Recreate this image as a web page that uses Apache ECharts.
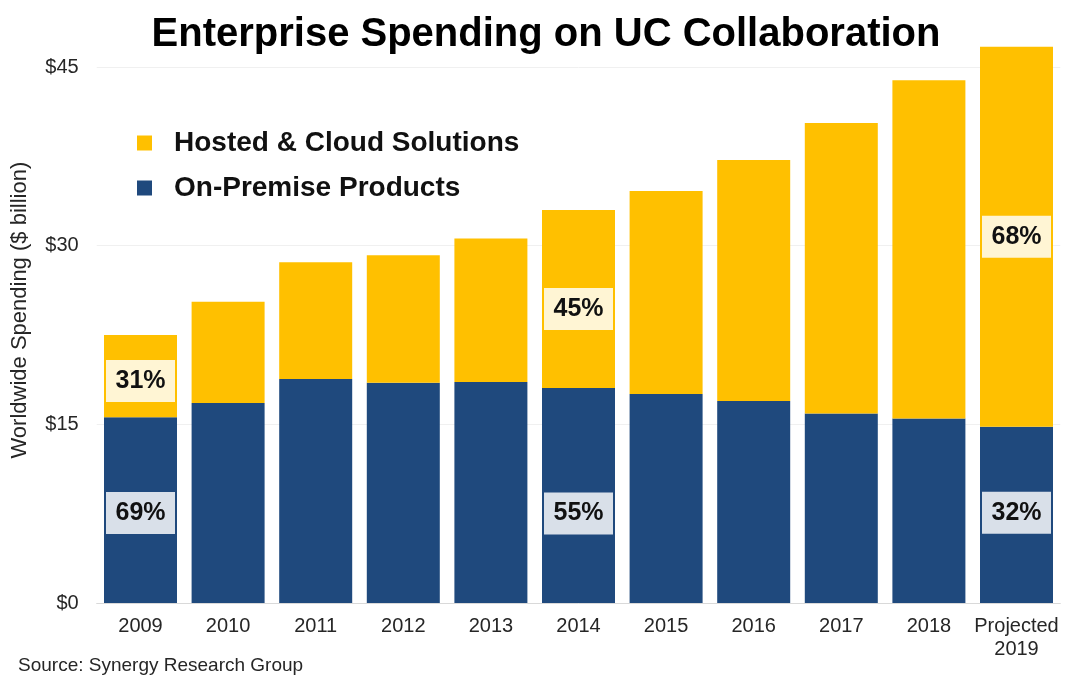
<!DOCTYPE html>
<html>
<head>
<meta charset="utf-8">
<style>html,body{margin:0;padding:0;background:#fff}#c{width:1080px;height:684px}</style>
<script src="https://cdn.jsdelivr.net/npm/echarts@6/dist/echarts.min.js"></script>
</head>
<body>
<div id="c"></div>
<script>
const categories = ['2009','2010','2011','2012','2013','2014','2015','2016','2017','2018','Projected\n2019'];
const onPremise = [15.6,16.8,18.8,18.5,18.55,18.05,17.55,16.95,15.9,15.5,14.8];
const hosted = [6.9,8.5,9.8,10.7,12.05,14.95,17.05,20.25,24.4,28.4,31.9];
const onPremiseShare = ['69%',null,null,null,null,'55%',null,null,null,null,'32%'];
const hostedShare = ['31%',null,null,null,null,'45%',null,null,null,null,'68%'];
const yTicks = [0,15,30,45];

const FONT = '"Liberation Sans", Arial, sans-serif';
function shareLabel(text, dy) {
  return {
    show: true, position: 'inside', offset: [0, dy],
    formatter: text, width: 69, height: 42, lineHeight: 46, align: 'center', verticalAlign: 'middle',
    backgroundColor: 'rgba(255,255,255,0.83)',
    color: '#111', fontFamily: FONT, fontWeight: 'bold', fontSize: 25
  };
}
const hostedOffsets = [5, 0, 0, 0, 0, 10, 0, 0, 0, 0, 0];
const onPremOffsets = [3, 0, 0, 0, 0, 18, 0, 0, 0, 0, -2];
function items(values, shares, offsets) {
  return values.map((v, i) => shares[i] ? {value: v, label: shareLabel(shares[i], offsets[i])} : v);
}
const chart = echarts.init(document.getElementById('c'), null, {renderer: 'canvas'});
chart.setOption({
  animation: false,
  backgroundColor: '#fff',
  title: [
    {text: 'Enterprise Spending on UC Collaboration', left: 541, textAlign: 'center', top: 10,
     textStyle: {fontFamily: FONT, fontWeight: 'bold', fontSize: 40, color: '#000'}},
    {text: 'Source: Synergy Research Group', left: 13, top: 651,
     textStyle: {fontFamily: FONT, fontWeight: 'normal', fontSize: 19, color: '#262626'}}
  ],
  legend: {
    left: 132, top: 123, orient: 'vertical', itemWidth: 15, itemHeight: 15, itemGap: 15,
    icon: 'rect', selectedMode: false,
    data: ['Hosted & Cloud Solutions', 'On-Premise Products'],
    textStyle: {fontFamily: FONT, fontWeight: 'bold', fontSize: 28, color: '#111', padding: [0,0,0,17], lineHeight: 30}
  },
  grid: {left: 96.7, right: 19.7, top: 31.3, bottom: 81},
  xAxis: {
    type: 'category', data: categories,
    axisTick: {show: false},
    axisLine: {lineStyle: {color: '#d9d9d9', width: 1}},
    axisLabel: {fontFamily: FONT, fontSize: 20, color: '#262626', margin: 12, lineHeight: 23, interval: 0}
  },
  yAxis: {
    type: 'value', min: 0, max: 48, interval: 15,
    name: 'Worldwide Spending ($ billion)', nameLocation: 'middle', nameGap: 66,
    nameTextStyle: {fontFamily: FONT, fontSize: 22, color: '#262626', padding: [0,0,0,14]},
    axisLine: {show: false}, axisTick: {show: false},
    axisLabel: {fontFamily: FONT, fontSize: 20, color: '#262626', margin: 18, showMaxLabel: false,
      formatter: v => yTicks.includes(v) ? '$' + v : ''},
    splitLine: {showMaxLine: false, lineStyle: {color: '#f0f0f0', width: 1}}
  },
  series: [
    {name: 'On-Premise Products', type: 'bar', stack: 'total', barWidth: 73,
     itemStyle: {color: '#1F497D'}, data: items(onPremise, onPremiseShare, onPremOffsets)},
    {name: 'Hosted & Cloud Solutions', type: 'bar', stack: 'total', barWidth: 73,
     itemStyle: {color: '#FFC000'}, data: items(hosted, hostedShare, hostedOffsets)}
  ]
});
</script>
</body>
</html>
